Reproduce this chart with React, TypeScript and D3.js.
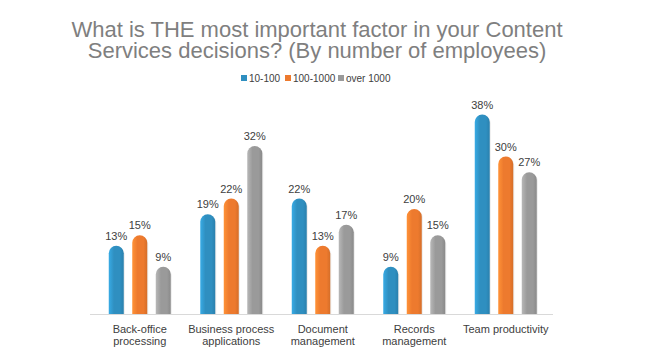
import React from "react";
import * as d3 from "d3";

const categories = [
  ["Back-office", "processing"],
  ["Business process", "applications"],
  ["Document", "management"],
  ["Records", "management"],
  ["Team productivity"],
];
const seriesNames = ["10-100", "100-1000", "over 1000"];
const small = [13, 19, 22, 9, 38];
const medium = [15, 22, 13, 20, 30];
const large = [9, 32, 17, 15, 27];
const seriesValues = [small, medium, large];
const colors = ["#2f8fc0", "#ed7a2e", "#9a9a9a"];
const titleLines = [
  "What is THE most important factor in your Content",
  "Services decisions? (By number of employees)",
];

export default function App() {
  const W = 647, H = 362;
  const x0 = d3.scaleBand<number>().domain(d3.range(categories.length)).range([94, 551.5]);
  const x1 = d3.scalePoint<number>().domain(d3.range(3)).range([-23.5, 23.5]);
  const y = d3.scaleLinear().domain([0, 40]).range([314, 104]);
  const bw = 15;
  const font = "'Liberation Sans', Arial, sans-serif";

  const barPath = (x: number, top: number, bottom: number) => {
    const r = bw / 2;
    return `M${x},${bottom} L${x},${top + r} A${r},${r} 0 0 1 ${x + bw},${top + r} L${x + bw},${bottom} Z`;
  };

  const legendX = [241, 285, 338];

  return (
    <svg width={W} height={H} style={{ position: "absolute", left: 0, top: 0, background: "#fff" }}>
      <defs>
        {colors.map((c, i) => {
          const cc = d3.color(c)!;
          return (
            <linearGradient key={i} id={`g${i}`} x1="0" x2="1" y1="0" y2="0">
              <stop offset="0" stopColor={d3.color(c)!.brighter(0.5).toString()} />
              <stop offset="0.35" stopColor={c} />
              <stop offset="0.75" stopColor={c} />
              <stop offset="1" stopColor={cc.darker(0.3).toString()} />
            </linearGradient>
          );
        })}
      </defs>
      {titleLines.map((t, i) => (
        <text key={i} x={317} y={37 + i * 21} textAnchor="middle" fontFamily={font} fontSize={22} fill="#7f7f7f">
          {t}
        </text>
      ))}
      {seriesNames.map((s, i) => (
        <g key={s}>
          <rect x={legendX[i]} y={75} width={6} height={6} fill={colors[i]} />
          <text x={legendX[i] + 8} y={81.5} fontFamily={font} fontSize={10} fill="#404040">{s}</text>
        </g>
      ))}
      <line x1={90} x2={553} y1={314.5} y2={314.5} stroke="#d9d9d9" strokeWidth={1} />
      {categories.map((cat, ci) => {
        const cx = x0(ci)! + x0.bandwidth() / 2;
        return (
          <g key={ci}>
            {seriesValues.map((vals, si) => {
              const bx = cx + x1(si)! - bw / 2;
              const top = y(vals[ci]);
              return (
                <g key={si}>
                  <path d={barPath(bx + 1, top + 1, 314)} fill="#000" opacity={0.08} />
                  <path d={barPath(bx, top, 314)} fill={`url(#g${si})`} />
                  <text x={bx + bw / 2} y={top - 6} textAnchor="middle" fontFamily={font} fontSize={11} fill="#404040">
                    {vals[ci]}%
                  </text>
                </g>
              );
            })}
            {cat.map((l, li) => (
              <text key={li} x={cx} y={333 + li * 12} textAnchor="middle" fontFamily={font} fontSize={11} fill="#404040">
                {l}
              </text>
            ))}
          </g>
        );
      })}
    </svg>
  );
}
